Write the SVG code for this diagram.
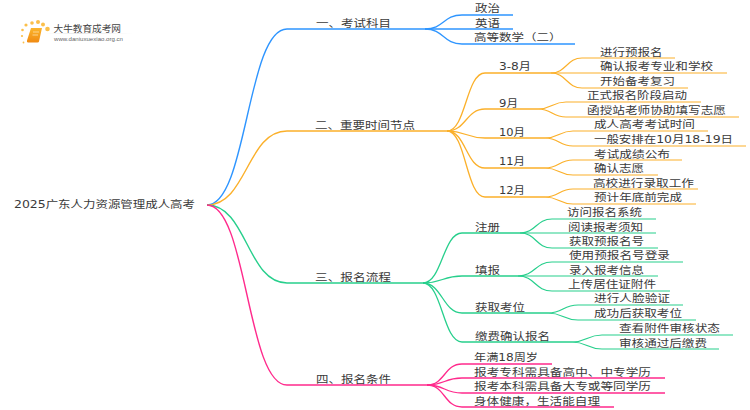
<svg xmlns="http://www.w3.org/2000/svg" width="750" height="410" viewBox="0 0 750 410">
<style>
text{font-family:"DejaVu Sans","Noto Sans CJK SC",sans-serif;font-size:10px;fill:#3a3a3a}
.nodes text{transform:translateY(-.6px)}
path{fill:none}
.b{stroke:#2e95ff}.o{stroke:#fbb02a}.g{stroke:#27cf8c}.p{stroke:#ff2a8c}
.l1{stroke-width:1.4}.l2{stroke-width:1.3}.l3{stroke-width:1.2}
</style>
<defs><linearGradient id="fade"><stop offset="0" stop-color="#ddd" stop-opacity="0"/><stop offset=".4" stop-color="#ddd"/><stop offset="1" stop-color="#ddd" stop-opacity="0"/></linearGradient>
<linearGradient id="book" x1="0" y1="0" x2="0" y2="1"><stop offset="0" stop-color="#fbb52c"/><stop offset="1" stop-color="#f08a12"/></linearGradient></defs>
<g id="logo">
<g fill="#fbbf4a"><circle cx="26" cy="25" r="1.6"/><circle cx="32" cy="23" r="1.800"/><circle cx="38" cy="22" r="2"/><circle cx="43" cy="24.500" r="2"/><circle cx="47.500" cy="29" r="2.300"/><circle cx="22.500" cy="30" r="1.300"/><circle cx="22" cy="36" r="1.100"/><circle cx="23.500" cy="42.500" r=".9"/></g>
<path d="M31 28H42L39 41.500Q38.800 42.500 37.500 42.500H28Q26.500 42.500 27 40.500Z" style="fill:url(#book)"/>
<path d="M33 32H39M32.500 35H38" stroke="#fde0a8" stroke-width=".8"/>
<rect x="45" y="33" width="88" height=".7" fill="url(#fade)"/>
<text x="53.500" y="31.500" style="font-size:9.500px;fill:#444" textLength="67.500" lengthAdjust="spacingAndGlyphs">大牛教育成考网</text>
<text x="54" y="41" style="font-size:5.500px;fill:#666;font-family:'Liberation Sans',sans-serif" textLength="69" lengthAdjust="spacingAndGlyphs">www.daniuxuexiao.org.cn</text>
</g>
<g id="connectors">
<g class="b">
<path class="l1" d="M207 205C247 205 247 29 287 29H425"/>
<path class="l2" d="M425 29C444 29 443 15 462 15H513"/>
<path class="l2" d="M425 29H513"/>
<path class="l2" d="M425 29C444 29 443 44 462 44H575"/>
</g>
<g class="o">
<path class="l1" d="M207 205C247 205 247 131 287 131H447"/>
<path class="l2" d="M447 131C466 131 466 73 485 73H551"/>
<path class="l2" d="M447 131C466 131 466 109 485 109H538"/>
<path class="l2" d="M447 131C466 131 466 138 485 138H545"/>
<path class="l2" d="M447 131C466 131 466 168 485 168H545"/>
<path class="l2" d="M447 131C466 131 466 197 485 197H545"/>
<path class="l3" d="M551 73C566 73 567 58 582 58H675"/>
<path class="l3" d="M551 73H727"/>
<path class="l3" d="M551 73C566 73 567 88 582 88H688"/>
<path class="l3" d="M538 109C552 109 552 102 566 102H701"/>
<path class="l3" d="M538 109C552 109 552 117 566 117H739"/>
<path class="l3" d="M545 138C559 138 559 131 573 131H708"/>
<path class="l3" d="M545 138C559 138 559 146 573 146H746"/>
<path class="l3" d="M545 168C559 168 559 160 573 160H682"/>
<path class="l3" d="M545 168C559 168 559 175 573 175H658"/>
<path class="l3" d="M545 197C559 197 559 189 573 189H698"/>
<path class="l3" d="M545 197C559 197 559 204 573 204H696"/>
</g>
<g class="g">
<path class="l1" d="M207 205C247 205 247 283 287 283H423"/>
<path class="l2" d="M423 283C442 283 443 233 462 233H520"/>
<path class="l2" d="M423 283C442 283 443 276 462 276H518"/>
<path class="l2" d="M423 283C442 283 443 313 462 313H548"/>
<path class="l2" d="M423 283C442 283 443 342 462 342H572"/>
<path class="l3" d="M520 233C536 233 536 219 552 219H656"/>
<path class="l3" d="M520 233H656"/>
<path class="l3" d="M520 233C536 233 536 248 552 248H658"/>
<path class="l3" d="M518 276C535 276 535 262 552 262H683"/>
<path class="l3" d="M518 276H658"/>
<path class="l3" d="M518 276C535 276 535 291 552 291H670"/>
<path class="l3" d="M548 313C563 313 563 305 578 305H683"/>
<path class="l3" d="M548 313C563 313 563 320 578 320H696"/>
<path class="l3" d="M572 342C587 342 587 335 602 335H733"/>
<path class="l3" d="M572 342C587 342 587 349 602 349H719"/>
</g>
<g class="p">
<path class="l1" d="M207 205C247 205 247 385 287 385H427"/>
<path class="l2" d="M427 385C445 385 444 364 462 364H552"/>
<path class="l2" d="M427 385C445 385 444 378 462 378H665"/>
<path class="l2" d="M427 385C445 385 444 393 462 393H665"/>
<path class="l2" d="M427 385C445 385 444 407 462 407H614"/>
</g>
</g>
<g class="nodes">
<g id="root"><text x="14" y="209" textLength="181" lengthAdjust="spacingAndGlyphs">2025广东人力资源管理成人高考</text></g>
<g id="n1"><text x="316" y="27.500" textLength="75" lengthAdjust="spacingAndGlyphs">一、考试科目</text></g>
<g id="n1-1"><text x="475" y="13" textLength="25" lengthAdjust="spacingAndGlyphs">政治</text></g>
<g id="n1-2"><text x="475" y="27.500" textLength="25" lengthAdjust="spacingAndGlyphs">英语</text></g>
<g id="n1-3"><text x="474" y="42" textLength="87.500" lengthAdjust="spacingAndGlyphs">高等数学（二）</text></g>
<g id="n2"><text x="315" y="129.500" textLength="100" lengthAdjust="spacingAndGlyphs">二、重要时间节点</text></g>
<g id="n2-1"><text x="499" y="71" textLength="32" lengthAdjust="spacingAndGlyphs">3-8月</text></g>
<g id="n2-1-1"><text x="600" y="56.500" textLength="62.500" lengthAdjust="spacingAndGlyphs">进行预报名</text></g>
<g id="n2-1-2"><text x="600" y="71" textLength="113" lengthAdjust="spacingAndGlyphs">确认报考专业和学校</text></g>
<g id="n2-1-3"><text x="600" y="86" textLength="75" lengthAdjust="spacingAndGlyphs">开始备考复习</text></g>
<g id="n2-2"><text x="499" y="107.500" textLength="19" lengthAdjust="spacingAndGlyphs">9月</text></g>
<g id="n2-2-1"><text x="587" y="100" textLength="100" lengthAdjust="spacingAndGlyphs">正式报名阶段启动</text></g>
<g id="n2-2-2"><text x="587" y="115" textLength="139" lengthAdjust="spacingAndGlyphs">函授站老师协助填写志愿</text></g>
<g id="n2-3"><text x="499" y="136.500" textLength="26" lengthAdjust="spacingAndGlyphs">10月</text></g>
<g id="n2-3-1"><text x="594" y="129" textLength="101" lengthAdjust="spacingAndGlyphs">成人高考考试时间</text></g>
<g id="n2-3-2"><text x="594" y="144" textLength="139" lengthAdjust="spacingAndGlyphs">一般安排在10月18-19日</text></g>
<g id="n2-4"><text x="499" y="166" textLength="26" lengthAdjust="spacingAndGlyphs">11月</text></g>
<g id="n2-4-1"><text x="594" y="158.500" textLength="76" lengthAdjust="spacingAndGlyphs">考试成绩公布</text></g>
<g id="n2-4-2"><text x="594" y="173" textLength="50" lengthAdjust="spacingAndGlyphs">确认志愿</text></g>
<g id="n2-5"><text x="499" y="195" textLength="26" lengthAdjust="spacingAndGlyphs">12月</text></g>
<g id="n2-5-1"><text x="593" y="187.500" textLength="101" lengthAdjust="spacingAndGlyphs">高校进行录取工作</text></g>
<g id="n2-5-2"><text x="594" y="202" textLength="88" lengthAdjust="spacingAndGlyphs">预计年底前完成</text></g>
<g id="n3"><text x="315" y="281.500" textLength="76" lengthAdjust="spacingAndGlyphs">三、报名流程</text></g>
<g id="n3-1"><text x="475" y="231.500" textLength="25" lengthAdjust="spacingAndGlyphs">注册</text></g>
<g id="n3-1-1"><text x="567" y="217" textLength="75" lengthAdjust="spacingAndGlyphs">访问报名系统</text></g>
<g id="n3-1-2"><text x="568" y="231.500" textLength="75" lengthAdjust="spacingAndGlyphs">阅读报考须知</text></g>
<g id="n3-1-3"><text x="569" y="246" textLength="75" lengthAdjust="spacingAndGlyphs">获取预报名号</text></g>
<g id="n3-2"><text x="475" y="274.500" textLength="25" lengthAdjust="spacingAndGlyphs">填报</text></g>
<g id="n3-2-1"><text x="569" y="260" textLength="101" lengthAdjust="spacingAndGlyphs">使用预报名号登录</text></g>
<g id="n3-2-2"><text x="569" y="274.500" textLength="75" lengthAdjust="spacingAndGlyphs">录入报考信息</text></g>
<g id="n3-2-3"><text x="568" y="289" textLength="88" lengthAdjust="spacingAndGlyphs">上传居住证附件</text></g>
<g id="n3-3"><text x="475" y="311.500" textLength="50" lengthAdjust="spacingAndGlyphs">获取考位</text></g>
<g id="n3-3-1"><text x="594" y="303" textLength="76" lengthAdjust="spacingAndGlyphs">进行人脸验证</text></g>
<g id="n3-3-2"><text x="594" y="318" textLength="88" lengthAdjust="spacingAndGlyphs">成功后获取考位</text></g>
<g id="n3-4"><text x="475" y="340.500" textLength="75" lengthAdjust="spacingAndGlyphs">缴费确认报名</text></g>
<g id="n3-4-1"><text x="619" y="333" textLength="101" lengthAdjust="spacingAndGlyphs">查看附件审核状态</text></g>
<g id="n3-4-2"><text x="619" y="347.500" textLength="88" lengthAdjust="spacingAndGlyphs">审核通过后缴费</text></g>
<g id="n4"><text x="316" y="383.500" textLength="75" lengthAdjust="spacingAndGlyphs">四、报名条件</text></g>
<g id="n4-1"><text x="474" y="362" textLength="64" lengthAdjust="spacingAndGlyphs">年满18周岁</text></g>
<g id="n4-2"><text x="474" y="376.500" textLength="177" lengthAdjust="spacingAndGlyphs">报考专科需具备高中、中专学历</text></g>
<g id="n4-3"><text x="474" y="391" textLength="177" lengthAdjust="spacingAndGlyphs">报考本科需具备大专或等同学历</text></g>
<g id="n4-4"><text x="474" y="405.500" textLength="126" lengthAdjust="spacingAndGlyphs">身体健康，生活能自理</text></g>
</g>
</svg>
